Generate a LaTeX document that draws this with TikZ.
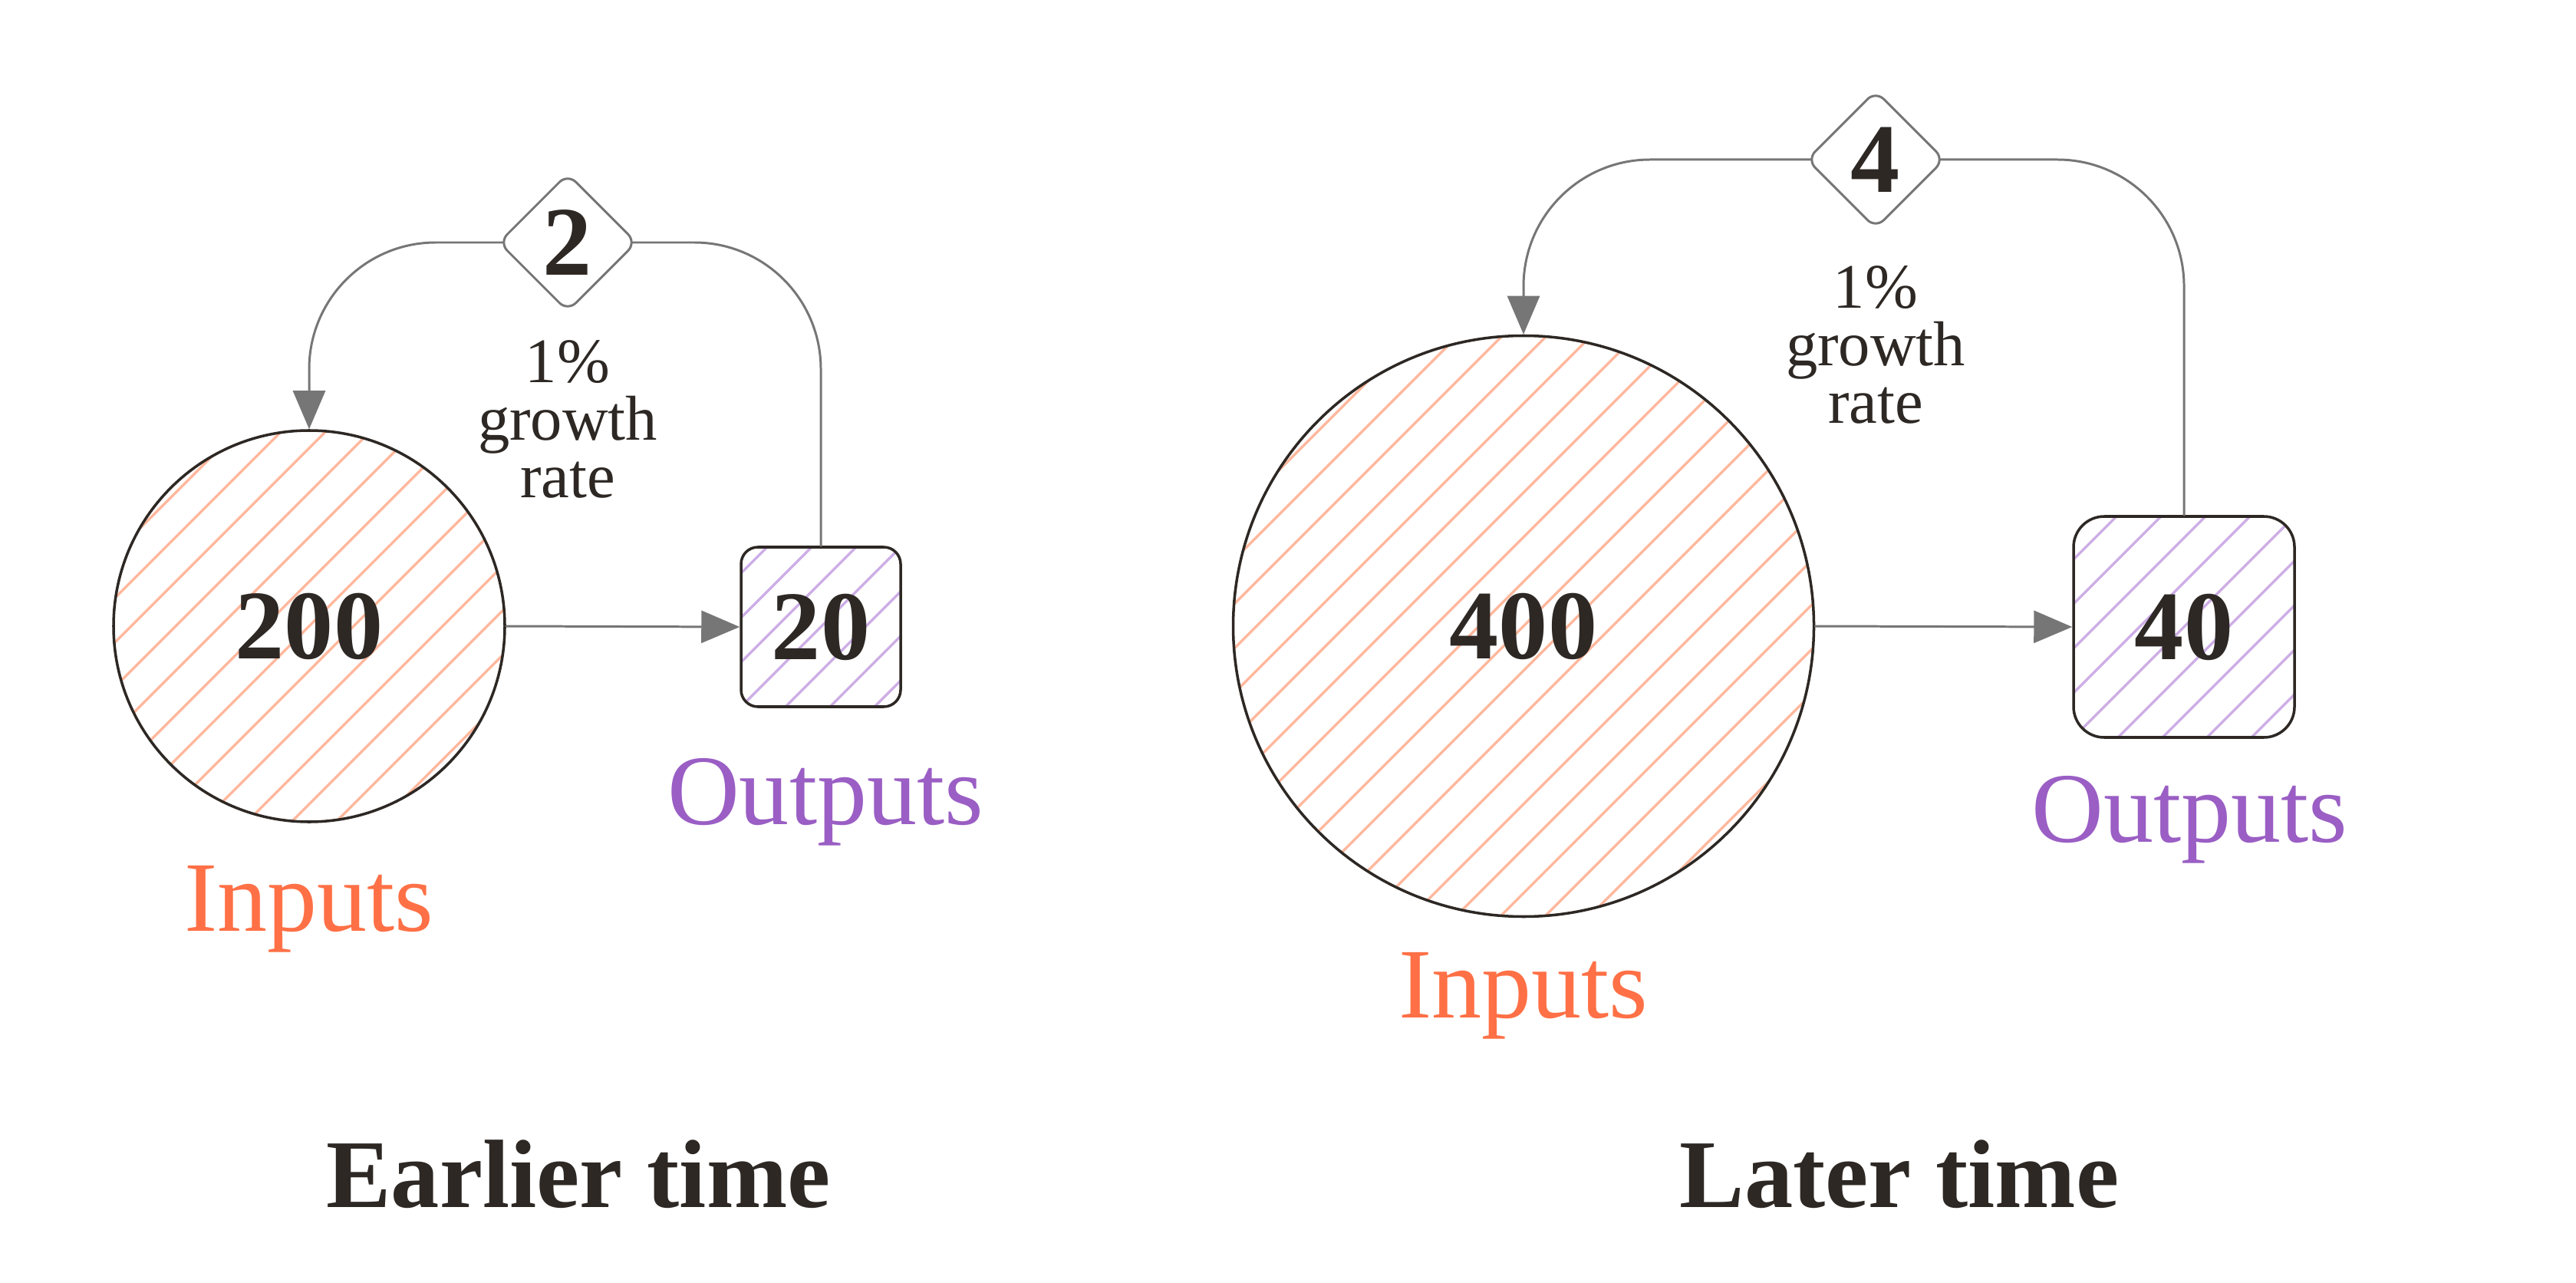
\documentclass[tikz,border=0pt]{standalone}
\usepackage{fontspec}
\setmainfont{Liberation Serif}
\usetikzlibrary{shapes.geometric,arrows.meta,positioning}
\definecolor{ink}{HTML}{2D2824}
\definecolor{linkgray}{HTML}{767676}
\definecolor{inorange}{HTML}{FF7046}
\definecolor{inhatch}{HTML}{FFB89E}
\definecolor{outpurple}{HTML}{9A5EC4}
\definecolor{outhatch}{HTML}{CDAEE6}
\begin{document}
\begin{tikzpicture}[line cap=round,line join=round,
  hatched/.style={path picture={
    \foreach \k in {-14,...,14}
      \draw[#1,line width=.95pt]
        ([xshift=\k*5.8mm]path picture bounding box.center) +(-6,-6) -- +(6,6);}},
  number/.style={text=ink,font=\fontsize{36.5}{40}\selectfont\bfseries},
  stock/.style={number,circle,draw=ink,line width=1pt,inner sep=0pt,hatched=inhatch},
  yield/.style={number,rectangle,draw=ink,line width=1pt,inner sep=0pt,hatched=outhatch},
  rate/.style={number,diamond,aspect=1,draw=linkgray,line width=.85pt,fill=white,
    rounded corners=1.5mm,inner sep=0pt,minimum size=1.8cm},
  link/.style={draw=linkgray,line width=.85pt},
  flow/.style={link,-{Triangle[length=5mm,width=4.2mm]}},
  growth/.style={text=ink,align=center,inner sep=0pt,font=\fontsize{23.5}{21.3}\selectfont},
  caption/.style={inner sep=0pt,font=\fontsize{37}{40}\selectfont},
  heading/.style={text=ink,inner sep=0pt,font=\fontsize{36}{40}\selectfont\bfseries}]
  \path[use as bounding box] (0,0) rectangle (33.58,-16.72);
  \foreach \panel/\cx/\csize/\cval/\bx/\bsize/\bround/\bval/\dx/\dy/\rval/\gy/\iny/\outx/\outy/\tx/\title in {
    1/4.03/5.10/200/10.70/2.08/2.2mm/20/7.40/-3.16/2/-4.43/-12.13/10.76/-10.74/7.54/Earlier time,
    2/19.86/7.57/400/28.47/2.88/4mm/40/24.45/-2.08/4/-3.46/-13.26/28.54/-10.97/24.76/Later time} {
    \node[stock,minimum size=\csize cm] (in\panel) at (\cx,-8.16) {\cval};
    \node[yield,minimum width=\bsize cm,minimum height=\bsize cm,rounded corners=\bround]
      (out\panel) at (\bx,-8.17) {\bval};
    \node[rate] (rate\panel) at (\dx,\dy) {\rval};
    \node[growth,anchor=north] (growth\panel) at (\dx,\gy) {1\%\\growth\\rate};
    \node[caption,text=inorange,anchor=base] (inlabel\panel) at (\cx,\iny) {Inputs};
    \node[caption,text=outpurple,anchor=base] (outlabel\panel) at (\outx,\outy) {Outputs};
    \node[heading,anchor=base] (time\panel) at (\tx,-15.73) {\title};
    % loop back from the rate to the inputs
    \draw[flow,rounded corners=1.65cm,shorten <=-2pt] (rate\panel.west) -| (in\panel.north);
    \draw[link,rounded corners=1.65cm,shorten <=-2pt] (rate\panel.east) -| (out\panel.north);
    \draw[flow] (in\panel.east) -- (out\panel.west);
  }
\end{tikzpicture}
\end{document}
